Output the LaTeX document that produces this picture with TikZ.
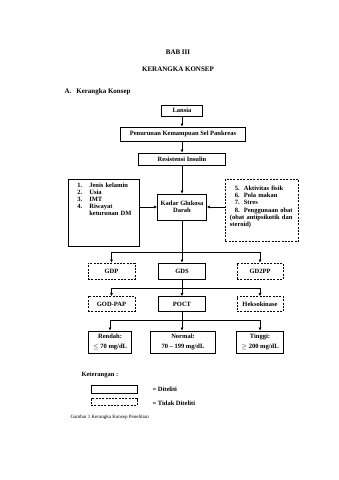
\documentclass[tikz,border=0pt]{standalone}
\usepackage{fontspec}
\setmainfont{Liberation Serif}
\usetikzlibrary{arrows.meta}

\begin{document}
\begin{tikzpicture}[x=1pt,y=-1pt,font=\fontsize{6.5}{7.2}\selectfont\bfseries,
 box/.style={draw,line width=0.9pt,align=center,inner sep=1pt},
 dbox/.style={box,dash pattern=on 2pt off 1.3pt},
 list/.style={anchor=north west,align=left,inner ysep=1.5pt},
 arr/.style={-{Latex[length=3pt,width=3pt]},line width=0.9pt}]
\useasboundingbox (0,0) rectangle (339,480);
\node[font=\fontsize{7}{8}\selectfont\bfseries] (bab) at (178,52) {BAB III};
\node[font=\fontsize{7}{8}\selectfont\bfseries] (judul) at (178,69) {KERANGKA KONSEP};
\node[anchor=west,font=\fontsize{7}{8}\selectfont\bfseries] (sub) at (61,92) {A.\hspace{5pt}Kerangka Konsep};
\node[box,minimum width=41pt,minimum height=11pt] (lansia) at (182,110.5) {Lansia};
\node[box,minimum width=125pt,minimum height=14pt] (turun) at (183,134) {Penurunan Kemampuan Sel Pankreas};
\node[box,minimum width=87pt,minimum height=12pt] (resist) at (182,159) {Resistensi Insulin};
\node[box,minimum width=49pt,minimum height=26pt] (kadar) at (182,207) {Kadar Glukosa\\Darah};
\node[box,list,text width=53pt,inner xsep=9pt,minimum height=67pt] (faktor) at (68,179)
 {\begin{tabular}{@{}l@{\hspace{7pt}}l@{}}1.&Jenis kelamin\\2.&Usia\\3.&IMT\\4.&Riwayat\\&keturunan DM\rule[-28pt]{0pt}{28pt}\end{tabular}};
\node[dbox,list,text width=64pt,inner xsep=4.5pt,minimum height=62pt] (gaya) at (225,179)
 {\begin{tabular}{@{\hspace{5pt}}l@{\hspace{4pt}}l@{}}5.\rule{0pt}{8pt}&Aktivitas fisik\\6.&Pola makan\\7.&Stres\\8.&Penggunaan obat\\
 \multicolumn{2}{@{}l@{}}{(obat antipsikotik dan}\\\multicolumn{2}{@{}l@{}}{steroid)\rule[-12pt]{0pt}{12pt}}\end{tabular}};
% pemeriksaan
\node[dbox,minimum width=47pt,minimum height=16pt] (gdp) at (111.5,271) {GDP};
\node[box,minimum width=47pt,minimum height=16pt] (gds) at (182,271) {GDS};
\node[dbox,minimum width=46pt,minimum height=16pt] (gdpp) at (260,271) {GD2PP};
\node[dbox,minimum width=47pt,minimum height=15pt] (godpap) at (111.5,304) {GOD-PAP};
\node[box,minimum width=47pt,minimum height=15pt] (poct) at (182,304) {POCT};
\node[dbox,minimum width=46pt,minimum height=15pt] (heksok) at (260,304) {Heksokinase};
% hasil
\node[box,minimum width=43pt,minimum height=22pt] (rendah) at (110,342) {Rendah:\\[2.5pt]$\leq$ 70 mg/dL};
\node[box,minimum width=65pt,minimum height=22pt] (normal) at (183,342) {Normal:\\[2.5pt]70 -- 199 mg/dL};
\node[box,minimum width=47pt,minimum height=22pt] (tinggi) at (260,342) {Tinggi:\\[2.5pt]$\geq$ 200 mg/dL};
\coordinate (c1) at (182,252);
\coordinate (c2) at (182,288);
\coordinate (c3) at (182,320);
\draw[arr] (lansia) -- (lansia |- turun.north);
\draw[arr] (lansia |- turun.south) -- (resist);
\draw[arr] (resist) -- (kadar);
\draw[arr] (faktor.east |- kadar.west) -- (kadar.west);
\draw[arr] (gaya.west |- kadar.east) -- (kadar.east);
\draw[arr] (kadar) -- (gds); \draw[arr] (c1) -| (gdp); \draw[arr] (c1) -| (gdpp);
\draw[arr] (gds) -- (poct); \draw[arr] (c2) -| (godpap); \draw[arr] (c2) -| (heksok);
\draw[arr] (poct) -- (poct |- normal.north); \draw[arr] (c3) -| (rendah); \draw[arr] (c3) -| (tinggi);
% keterangan
\node[anchor=west] (ket) at (78,375) {Keterangan :};
\node[box,minimum width=46pt,minimum height=8pt] (legA) at (114,389) {};
\node[dbox,minimum width=46pt,minimum height=7pt] (legB) at (114,402) {};
\node[anchor=west] (legAt) at (149,389) {= Diteliti};
\node[anchor=west] (legBt) at (149,403) {= Tidak Diteliti};
\node[anchor=west,font=\fontsize{5}{6}\selectfont] (cap) at (67,417) {Gambar 1 Kerangka Konsep Penelitian};
\end{tikzpicture}
\end{document}
